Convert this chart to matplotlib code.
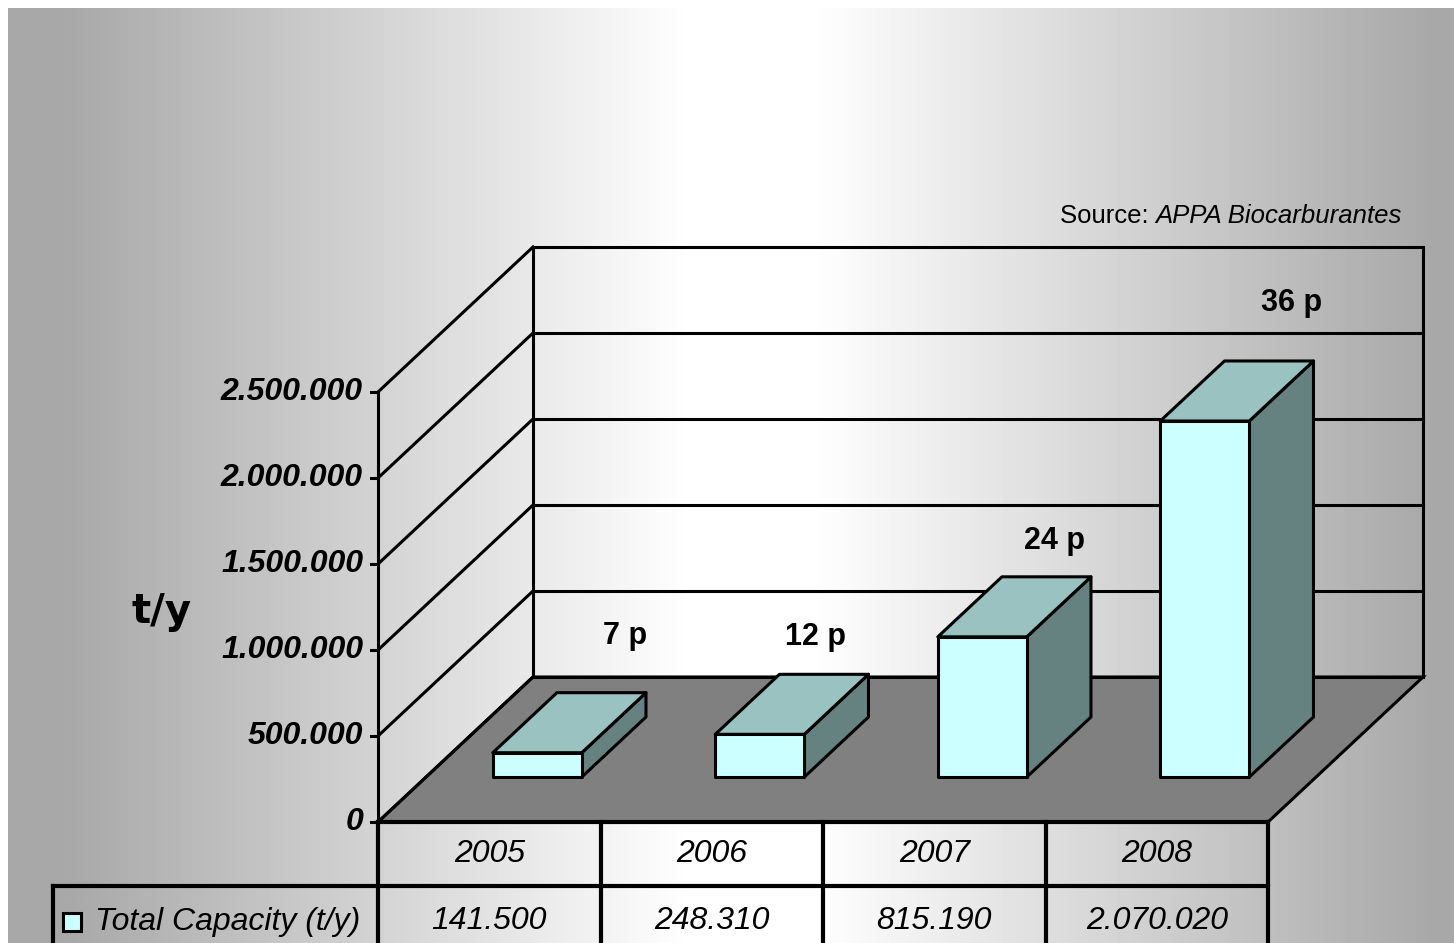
import matplotlib.pyplot as plt
import matplotlib.patches as patches
import numpy as np

# data
years = ['2005', '2006', '2007', '2008']
capacity = [141500, 248310, 815190, 2070020]
plant_labels = ['7 p', '12 p', '24 p', '36 p']
yticks = [0, 500000, 1000000, 1500000, 2000000, 2500000]
series_name = 'Total Capacity (t/y)'

W, H = 1454, 943
FRONT = '#CCFFFF'
TOP = '#99C2C0'
SIDE = '#668280'
FLOOR = '#808080'
FONT = 'Liberation Sans'


def thousands(v):
    return f'{v:,}'.replace(',', '.')


fig = plt.figure(figsize=(W / 100, H / 100), dpi=100)

# background gradient (grey - white - grey)
bg = fig.add_axes([8 / W, 0, 1 - 8 / W, 1 - 8 / H])
px = np.arange(8, W)
t = np.clip((np.abs(px - 750) - 60) / 620, 0, 1)
shade = 1 - 0.34 * t
bg.imshow(shade[None, :], cmap='gray', vmin=0, vmax=1, aspect='auto',
          extent=[0, 1, 0, 1])
bg.set_axis_off()

# front plane of the 3d plot: x = category, y = value
x0, x1, ybot, ytop = 378, 1268, 822, 392
ax = fig.add_axes([x0 / W, (H - ybot) / H, (x1 - x0) / W, (ybot - ytop) / H])
ax.set_xlim(0, len(years))
ax.set_ylim(0, yticks[-1])
ax.set_axis_off()
ax.patch.set_alpha(0)

# depth offset in data units (full depth = 155 px right, 145 px up)
px_x = (x1 - x0) / len(years)
px_y = (ybot - ytop) / yticks[-1]
DX, DY = 155 / px_x, 145 / px_y


def proj(x, v, d):
    return (x + DX * d, v + DY * d)


n = len(years)
lw = 2.2

# floor
floor = [proj(0, 0, 0), proj(0, 0, 1), proj(n, 0, 1), proj(n, 0, 0)]
ax.add_patch(patches.Polygon(floor, closed=True, facecolor=FLOOR,
                             edgecolor='black', lw=lw, clip_on=False, zorder=1))

# back wall gridlines + edges
for v in yticks:
    p, q = proj(0, v, 1), proj(n, v, 1)
    ax.plot([p[0], q[0]], [p[1], q[1]], color='black', lw=lw, clip_on=False, zorder=2)
for xe in (0, n):
    p, q = proj(xe, 0, 1), proj(xe, yticks[-1], 1)
    ax.plot([p[0], q[0]], [p[1], q[1]], color='black', lw=lw, clip_on=False, zorder=2)

# left wall diagonals
for v in yticks:
    p, q = proj(0, v, 0), proj(0, v, 1)
    ax.plot([p[0], q[0]], [p[1], q[1]], color='black', lw=lw, clip_on=False, zorder=2)

# front axis + ticks
ax.plot([0, 0], [0, yticks[-1]], color='black', lw=lw, clip_on=False, zorder=3)
ax.plot([0, n], [0, 0], color='black', lw=3, clip_on=False, zorder=3)
for v in yticks:
    ax.plot([-7 / px_x, 0], [v, v], color='black', lw=lw, clip_on=False, zorder=3)
    ax.annotate(thousands(v), (0, v), xytext=(-15, 0), textcoords='offset pixels',
                ha='right', va='center', fontsize=23, fontweight='bold',
                fontstyle='italic', family=FONT, annotation_clip=False)

# bars
half = 0.2
d0, d1 = 0.31, 0.724
label_off = [(24, 57), (-8, 37), (8, 36), (23, 58)]
for i, val in enumerate(capacity):
    c = i + 0.5
    l, r = c - half, c + half
    side = [proj(r, 0, d0), proj(r, 0, d1), proj(r, val, d1), proj(r, val, d0)]
    top = [proj(l, val, d0), proj(l, val, d1), proj(r, val, d1), proj(r, val, d0)]
    front = [proj(l, 0, d0), proj(r, 0, d0), proj(r, val, d0), proj(l, val, d0)]
    for poly, fc in ((side, SIDE), (top, TOP), (front, FRONT)):
        ax.add_patch(patches.Polygon(poly, closed=True, facecolor=fc, edgecolor='black',
                                     lw=lw, joinstyle='round', clip_on=False, zorder=4))
    ox, oy = label_off[i]
    ax.annotate(plant_labels[i], proj(c, val, d1), xytext=(ox, oy),
                textcoords='offset pixels', ha='center', va='center',
                fontsize=22, fontweight='bold', family=FONT,
                annotation_clip=False, zorder=5)

# axis title
fig.text(162 / W, 1 - 612 / H, 't/y', ha='center', va='center', fontsize=29,
         fontweight='bold', family='DejaVu Sans')

# source note: regular "Source:" + italic name
src = fig.text(1402 / W, 1 - 216 / H, 'APPA Biocarburantes', ha='right',
               va='center', fontsize=18.5, fontstyle='italic', family=FONT)
plt.annotate('Source: ', xy=(0, 0.5), xycoords=src, ha='right', va='center',
             fontsize=18.5, family=FONT)

# data table below the chart
tab = fig.add_axes([0, 0, 1, 1])
tab.set_xlim(0, W)
tab.set_ylim(H, 0)
tab.set_axis_off()
tab.patch.set_alpha(0)
row1, row2, row_end = 822, 886, H + 5
edges = [x0 + k * px_x for k in range(n + 1)]
tlw = 3
tab.plot([x0, x0], [row1, row_end], color='black', lw=tlw)
tab.plot([x1, x1], [row1, row_end], color='black', lw=tlw)
for xe in edges[1:-1]:
    tab.plot([xe, xe], [row1, row_end], color='black', lw=tlw)
tab.plot([53, x1], [row2, row2], color='black', lw=tlw)
tab.plot([53, 53], [row2, row_end], color='black', lw=tlw)
for k in range(n):
    xc = (edges[k] + edges[k + 1]) / 2
    tab.text(xc, (row1 + row2) / 2, years[k], ha='center', va='center',
             fontsize=23, fontstyle='italic', family=FONT)
    tab.text(xc, 921, thousands(capacity[k]), ha='center', va='center',
             fontsize=23, fontstyle='italic', family=FONT)
tab.add_patch(patches.Rectangle((63, 913), 18, 18, facecolor=FRONT,
                                edgecolor='black', lw=2.2))
tab.text(95, 922, series_name, ha='left', va='center', fontsize=23,
         fontstyle='italic', family=FONT)

fig.savefig('out.png', dpi=100)
